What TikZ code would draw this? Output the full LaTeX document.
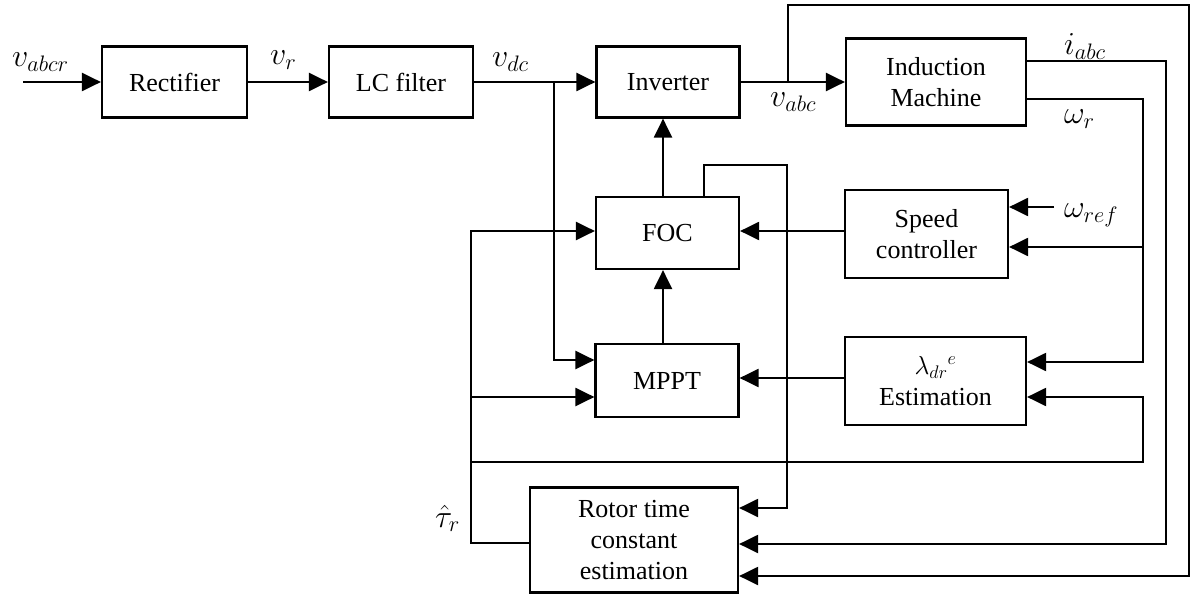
\RequirePackage{fix-cm}
\documentclass[tikz,border=0pt]{standalone}
\usepackage{fontspec}
\setmainfont{Liberation Serif}
\usetikzlibrary{arrows.meta}
\begin{document}
\begin{tikzpicture}[x=1pt,y=-1pt,
  blk/.style={draw, line width=2.2pt, inner sep=0pt, align=center, font=\fontsize{26}{31}\selectfont},
  wire/.style={line width=2.2pt},
  arr/.style={wire, -{Triangle[length=19pt,width=18pt]}},
  lbl/.style={inner sep=0pt, anchor=base west, font=\fontsize{32}{36}\selectfont},
]
\useasboundingbox (0,0) rectangle (1197,596);
% blocks
\node[blk, minimum width=145pt, minimum height=71pt] (rect) at (174.5,82) {Rectifier};
\node[blk, minimum width=144pt, minimum height=71pt] (lc) at (401,82) {LC filter};
\node[blk, minimum width=143pt, minimum height=71pt] (inv) at (668,82) {Inverter};
\node[blk, minimum width=180pt, minimum height=87pt] (im) at (936,82) {Induction\\Machine};
\node[blk, minimum width=143pt, minimum height=72pt] (foc) at (667.5,233) {FOC};
\node[blk, minimum width=163pt, minimum height=88pt] (spd) at (926.5,234) {Speed\\controller};
\node[blk, minimum width=143pt, minimum height=73pt] (mppt) at (667,380.5) {MPPT};
\node[blk, minimum width=181pt, minimum height=88pt] (lam) at (935.5,381) {$\lambda_{dr}{}^{e}$\\Estimation};
\node[blk, minimum width=208pt, minimum height=105pt] (rot) at (634,540) {Rotor time\\constant\\estimation};
% coordinates
\coordinate (vin) at (23,82);
\coordinate (jdc) at (554,82);
\coordinate (jabc) at (788,82);
\coordinate (jw) at (1143,247);
\coordinate (wref) at (1054,207);
\coordinate (jt1) at (471,397);
\coordinate (jt2) at (471,462);
% main flow
\draw[arr] (vin) -- (rect);
\draw[arr] (rect) -- (lc);
\draw[arr] (lc) -- (inv);
\draw[arr] (inv) -- (im);
% vdc to MPPT
\draw[arr] (jdc) |- (mppt.west |- 0,360);
% FOC to inverter, MPPT to FOC
\draw[arr] (foc.north -| 663,0) -- (inv.south -| 663,0);
\draw[arr] (mppt.north -| 663,0) -- (foc.south -| 663,0);
% FOC to rotor estimation
\draw[arr] (foc.north -| 704,0) |- (787,165) |- (rot.east |- 0,508);
% vabc loop
\draw[arr] (jabc) -- (788,5) -| (1189,576) -- (rot.east |- 0,576);
% iabc
\draw[arr] (im.east |- 0,61) -| (1166,544) -- (rot.east |- 0,544);
% omega_r
\draw[arr] (im.east |- 0,99) -| (1143,362) -- (lam.east |- 0,362);
\draw[arr] (jw) -- (spd.east |- jw);
% omega_ref
\draw[arr] (wref) -- (spd.east |- wref);
% speed controller to FOC
\draw[arr] (spd.west |- 0,231) -- (foc.east |- 0,231);
% lambda to MPPT
\draw[arr] (lam.west |- 0,378) -- (mppt.east |- 0,378);
% tau_r feedback
\draw[arr] (rot.west |- 0,543) -| (471,231) -- (foc.west |- 0,231);
\draw[arr] (jt1) -- (mppt.west |- jt1);
\draw[arr] (jt2) -| (1143,397) -- (lam.east |- 0,397);
% labels
\node[lbl] (l1) at (12,67) {$v_{abcr}$};
\node[lbl] (l2) at (270,65) {$v_r$};
\node[lbl] (l3) at (492,67) {$v_{dc}$};
\node[lbl] (l4) at (770,107) {$v_{abc}$};
\node[lbl] (l5) at (1064,55) {$i_{abc}$};
\node[lbl] (l6) at (1064,124) {$\omega_r$};
\node[lbl] (l7) at (1064,218) {$\omega_{ref}$};
\node[lbl] (l8) at (435,527) {$\hat{\tau}_r$};
\end{tikzpicture}
\end{document}
